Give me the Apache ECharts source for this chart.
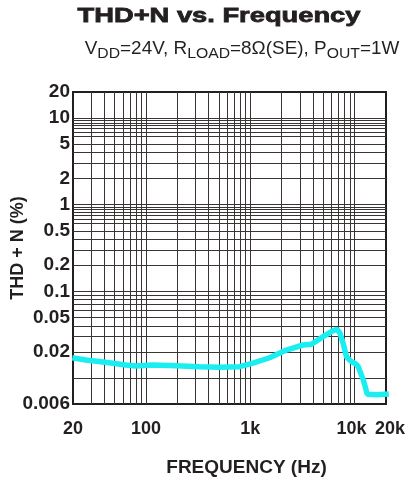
<!DOCTYPE html>
<html><head><meta charset="utf-8">
<script src="https://cdn.jsdelivr.net/npm/echarts@6/dist/echarts.min.js"></script>
<style>html,body{margin:0;padding:0;background:#fff}#c{width:412px;height:483px}</style>
</head><body><div id="c"></div>
<script>
// ---- data ----
const freq = [20.9, 26.5, 30.7, 44.4, 64.3, 80.2, 115.7, 194, 325, 507, 789, 1060, 1534, 2218, 3206, 3862, 4994, 6229, 6762, 7228, 7770, 8379, 9360, 10300, 10840, 12110, 13220, 16300, 20000];
const thdn = [0.0169, 0.0161, 0.0158, 0.0150, 0.0141, 0.0137, 0.0141, 0.0138, 0.0135, 0.0133, 0.0135, 0.0148, 0.0171, 0.0210, 0.0240, 0.0245, 0.0300, 0.0351, 0.0365, 0.0330, 0.0251, 0.0174, 0.0154, 0.0145, 0.0135, 0.0095, 0.0065, 0.0064, 0.0065];
const xTickValues = [20, 100, 1000, 10000, 20000];
const xTickLabels = ['20', '100', '1k', '{l|10k}', '{r|20k}'];
const yTickValues = [20, 10, 5, 2, 1, 0.5, 0.2, 0.1, 0.05, 0.02, 0.005];
const yTickLabels = ['20', '10', '5', '2', '1', '0.5', '0.2', '0.1', '0.05', '0.02', '0.006'];
const xGridDecades = [10, 100, 1000];
const xGridSteps = [2, 3, 4, 5, 6, 7, 8, 9, 10];
const yGridDecadeTops = [10, 1, 0.1, 0.01];
const yGridSteps = [1, 0.94, 0.88, 0.82, 0.76, 0.68, 0.61, 0.5, 0.4, 0.3, 0.2];
const xMin = 20, xMax = 20000, yMin = 0.005, yMax = 20;

const ink = '#231f20';
const xGrid = [];
xGridDecades.forEach(d => xGridSteps.forEach(m => { const v = d * m; if (v > xMin && v < xMax) xGrid.push(v); }));
const yGrid = [];
yGridDecadeTops.forEach(t => yGridSteps.forEach(m => { const v = t * m; if (v > yMin * 1.01 && v < yMax) yGrid.push(v); }));

function lookup(vals, labels, v) {
  let best = 0, bd = Infinity;
  vals.forEach((x, i) => { const d = Math.abs(Math.log(x) - Math.log(v)); if (d < bd) { bd = d; best = i; } });
  return labels[best];
}
const lblFont = {fontFamily: 'Liberation Sans', fontWeight: 'bold', fontSize: 18, color: ink};
const yLblFont = {fontFamily: 'Liberation Sans', fontWeight: 'bold', fontSize: 19, color: ink};

const chart = echarts.init(document.getElementById('c'), null, {renderer: 'canvas'});
chart.setOption({
  backgroundColor: '#fff',
  animation: false,
  grid: {left: 73, top: 92, width: 313, height: 312, show: true, borderColor: ink, borderWidth: 2,
    backgroundColor: 'transparent', containLabel: false, outerBoundsMode: 'none'},
  xAxis: {
    type: 'log', logBase: 10, min: xMin, max: xMax,
    name: 'FREQUENCY (Hz)', nameLocation: 'middle', nameGap: 54, nameMoveOverlap: false,
    nameTextStyle: {fontFamily: 'Liberation Sans', fontWeight: 'bold', fontSize: 19, color: ink, padding: [0, 0, 0, 34]},
    axisLine: {show: false}, axisTick: {show: false}, splitLine: {show: false}, minorTick: {show: false},
    axisLabel: Object.assign({customValues: xTickValues, formatter: v => lookup(xTickValues, xTickLabels, v), margin: 16,
      rich: {l: Object.assign({padding: [0, 6, 0, 0]}, lblFont), r: Object.assign({padding: [0, 0, 0, 8]}, lblFont)}}, lblFont)
  },
  yAxis: {
    type: 'log', logBase: 10, min: yMin, max: yMax,
    name: 'THD + N (%)', nameLocation: 'middle', nameGap: 46, nameRotate: 90, nameMoveOverlap: false,
    nameTextStyle: {fontFamily: 'Liberation Sans', fontWeight: 'bold', fontSize: 18, color: ink},
    axisLine: {show: false}, axisTick: {show: false}, splitLine: {show: false}, minorTick: {show: false},
    axisLabel: Object.assign({customValues: yTickValues, formatter: v => lookup(yTickValues, yTickLabels, v),
      margin: 3, padding: [6, 0, 0, 0]}, yLblFont)
  },
  graphic: [
    {type: 'text', x: 219, y: 16, scaleX: 1.3, z: 10,
      style: {text: 'THD+N vs. Frequency', font: 'bold 21px "Liberation Sans"', fill: ink, stroke: ink, lineWidth: 0.8,
        align: 'center', verticalAlign: 'middle'}},
    {type: 'text', x: 242, y: 49, scaleX: 1.05, z: 10,
      style: {text: '{m|V}{s|DD}{m|=24V, R}{s|LOAD}{m|=8Ω(SE), P}{s|OUT}{m|=1W}', align: 'center', verticalAlign: 'middle',
        rich: {m: {fontFamily: 'Liberation Sans', fontSize: 18, fill: ink},
               s: {fontFamily: 'Liberation Sans', fontSize: 15, fill: ink, padding: [9, 0, 0, 0]}}}}
  ],
  series: [
    {type: 'line', data: [], silent: true, z: 1,
      markLine: {silent: true, symbol: 'none', animation: false, label: {show: false},
        lineStyle: {color: '#3a3435', width: 1, type: 'solid'},
        emphasis: {disabled: true},
        data: xGrid.map(v => ({xAxis: v})).concat(yGrid.map(v => ({yAxis: v})))}},
    {type: 'line', z: 5, showSymbol: false, smooth: false,
      lineStyle: {color: '#1aeef0', width: 5.5, cap: 'square'},
      data: freq.map((f, i) => [f, thdn[i]])}
  ]
});
</script>
</body></html>
